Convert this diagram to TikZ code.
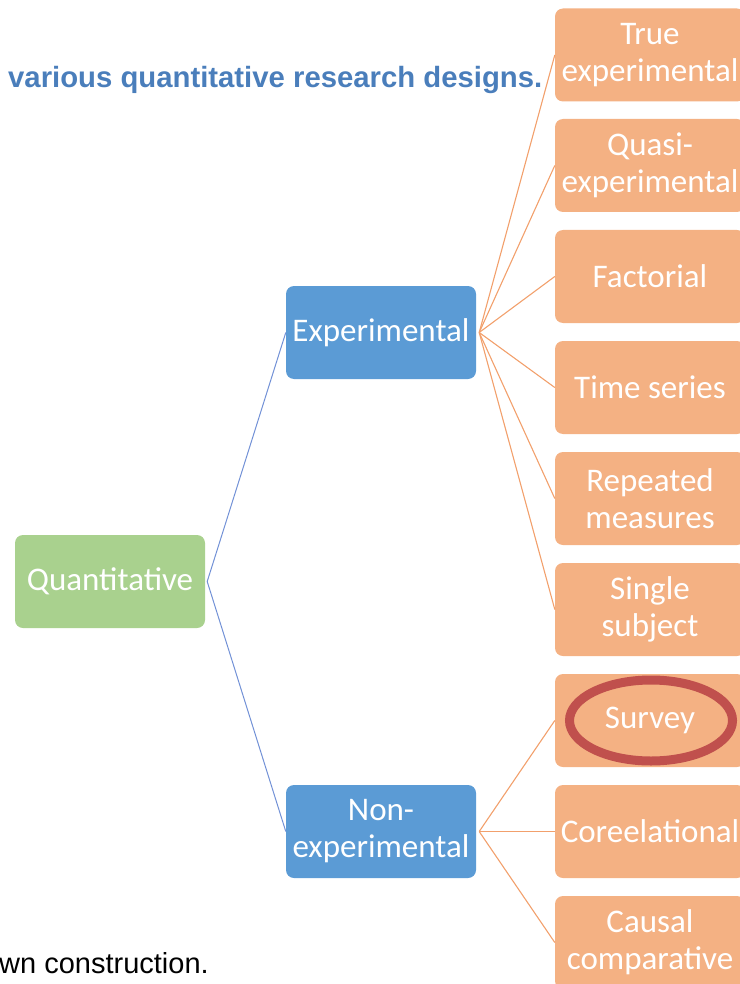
\documentclass[tikz,border=0pt]{standalone}
\usepackage{fontspec}
\setmainfont{Carlito}
\newfontfamily\arialfont{Liberation Sans}
\usetikzlibrary{shapes.geometric}
\definecolor{leafbg}{HTML}{F4B183}
\definecolor{midbg}{HTML}{5B9BD5}
\definecolor{rootbg}{HTML}{A9D18E}
\definecolor{leafline}{HTML}{F2A06C}
\definecolor{midline}{HTML}{7291D6}
\definecolor{titleblue}{HTML}{4A7EBB}
\definecolor{ringred}{HTML}{C0504D}
\tikzset{
  box/.style={rounded corners=8pt, minimum width=190pt, minimum height=93pt,
    inner sep=0pt, align=center, text=white,
    font=\fontsize{33}{37}\selectfont},
  leaf/.style={box, fill=leafbg},
  mid/.style={box, fill=midbg},
  root/.style={box, fill=rootbg},
  leafedge/.style={draw=leafline, line width=1.1pt},
  midedge/.style={draw=midline, line width=1pt},
}
\begin{document}
\begin{tikzpicture}[x=1pt, y=-1pt]
\useasboundingbox (0,0) rectangle (739,984);
% hierarchy boxes
\node[root] (quant) at (110,581.5) {Quantitative};
\node[mid] (exp) at (381,332.5) {Experimental};
\node[mid] (nonexp) at (381,831.5) {Non-\\experimental};
\node[leaf] (te) at (650,55) {True\\experimental};
\node[leaf] (qe) at (650,165.5) {Quasi-\\experimental};
\node[leaf] (fa) at (650,276.5) {Factorial};
\node[leaf] (ts) at (650,387.5) {Time series};
\node[leaf] (rm) at (650,498.5) {Repeated\\measures};
\node[leaf] (ss) at (650,609.5) {Single\\subject};
\node[leaf] (sv) at (650,720.5) {Survey};
\node[leaf] (co) at (650,831.5) {Coreelational};
\node[leaf] (cc) at (650,942.5) {Causal\\comparative};
% connectors
\coordinate (qj) at ([xshift=2pt]quant.east);
\coordinate (ej) at ([xshift=3pt]exp.east);
\coordinate (nj) at ([xshift=3pt]nonexp.east);
\draw[midedge] (exp.west) -- (qj) -- (nonexp.west);
\foreach \t in {te,qe,fa,ts,rm,ss} \draw[leafedge] (ej) -- (\t.west);
\foreach \t in {sv,co,cc} \draw[leafedge] (nj) -- (\t.west);
% highlight ring
\node[ellipse, draw=ringred, line width=9pt, minimum width=163pt,
  minimum height=81pt, inner sep=0pt] (ring) at ([xshift=1pt]sv.center) {};
% caption fragments
\node[anchor=base west, inner sep=0pt, text=titleblue,
  font=\arialfont\bfseries\fontsize{29.3}{34}\selectfont] (title) at (8,88)
  {various quantitative research designs.};
\node[anchor=base west, inner sep=0pt, text=black,
  font=\arialfont\fontsize{29}{34}\selectfont] (source) at (-1,973)
  {wn construction.};
\end{tikzpicture}
\end{document}
